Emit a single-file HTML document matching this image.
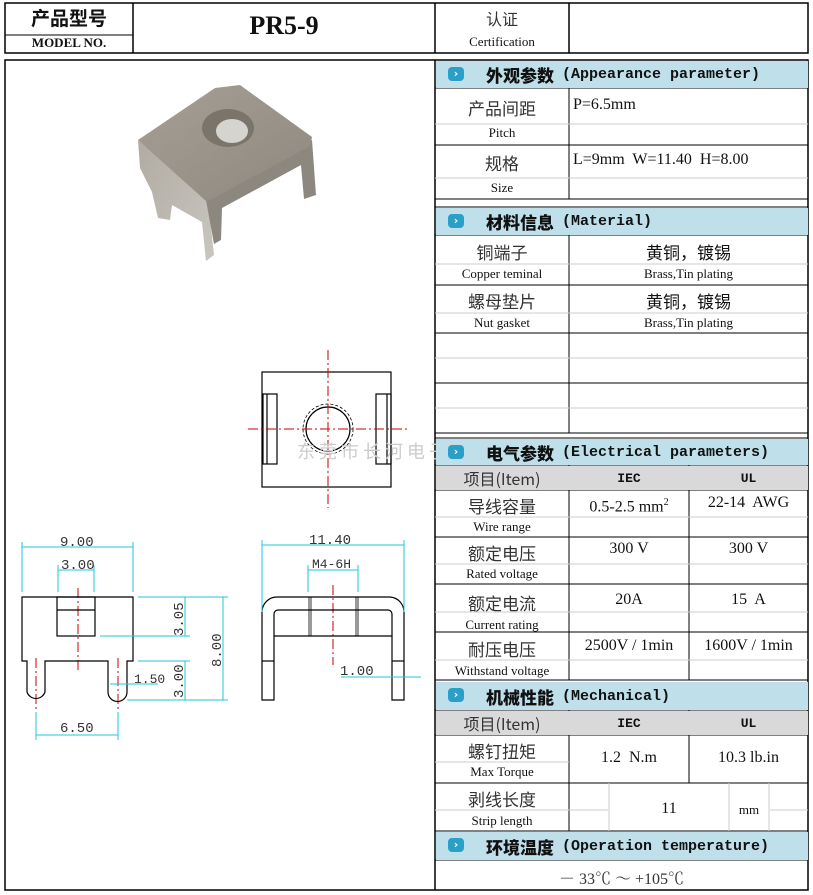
<!DOCTYPE html>
<html><head><meta charset="utf-8"><style>
body{margin:0;width:813px;height:895px;background:#fff;position:relative;overflow:hidden;font-family:"Liberation Serif","Noto Serif CJK SC",serif;color:#111}
.a{position:absolute}
.h{position:absolute;left:436px;width:372px;background:#bfe0ea;font-family:"Liberation Mono","Noto Sans CJK SC",monospace;font-weight:bold;font-size:15px;display:flex;align-items:center}
.h b{font-family:"Noto Sans CJK SC",sans-serif;font-size:17px;margin-left:50px;margin-right:8px}
.ic{position:absolute;left:12px;top:6px;width:16px;height:14px;border-radius:4px;background:#2a9fc8;color:#fff;font-size:11px;line-height:14px;text-align:center;font-family:"DejaVu Sans",sans-serif}
.t{position:absolute;text-align:center;font-size:17px;font-family:"Noto Sans CJK SC",sans-serif;color:#333}
.s{position:absolute;text-align:center;font-size:13px;font-family:"Liberation Serif",serif}
.v{position:absolute;text-align:center;font-size:16px;font-family:"Liberation Serif","Noto Serif CJK SC",serif}
.g{position:absolute;left:436px;width:372px;background:#d9d9d9}
</style></head><body>
<svg class="a" style="left:0;top:0" width="813" height="895">
<defs>
<linearGradient id="lf" x1="0" y1="0" x2="1" y2="1"><stop offset="0" stop-color="#b0aba2"/><stop offset="1" stop-color="#c9c6c0"/></linearGradient>
<linearGradient id="tf" x1="0" y1="0" x2="1" y2="1"><stop offset="0" stop-color="#a59f95"/><stop offset="1" stop-color="#8e887e"/></linearGradient>
</defs>
<g stroke="#000" stroke-width="1.5" fill="none">
<rect x="5" y="3" width="803" height="50"/>
<line x1="5" y1="35" x2="133" y2="35" stroke-width="1"/>
<line x1="133" y1="3" x2="133" y2="53"/><line x1="435" y1="3" x2="435" y2="53"/><line x1="569" y1="3" x2="569" y2="53"/>
<rect x="5" y="60" width="803" height="830"/>
<line x1="435" y1="60" x2="435" y2="890"/>
</g>
<g stroke="#000" stroke-width="1">
<line x1="435" y1="88" x2="808" y2="88"/><line x1="435" y1="145" x2="808" y2="145"/><line x1="435" y1="199" x2="808" y2="199"/>
<line x1="435" y1="207" x2="808" y2="207"/><line x1="435" y1="235" x2="808" y2="235"/><line x1="435" y1="285" x2="808" y2="285"/>
<line x1="435" y1="333" x2="808" y2="333"/><line x1="435" y1="383" x2="808" y2="383"/><line x1="435" y1="433" x2="808" y2="433"/>
<line x1="435" y1="438" x2="808" y2="438"/><line x1="435" y1="465" x2="808" y2="465"/><line x1="435" y1="490" x2="808" y2="490"/>
<line x1="435" y1="537" x2="808" y2="537"/><line x1="435" y1="584" x2="808" y2="584"/><line x1="435" y1="632" x2="808" y2="632"/>
<line x1="435" y1="680" x2="808" y2="680"/><line x1="435" y1="710" x2="808" y2="710"/><line x1="435" y1="735" x2="808" y2="735"/>
<line x1="435" y1="783" x2="808" y2="783"/><line x1="435" y1="831" x2="808" y2="831"/><line x1="435" y1="860" x2="808" y2="860"/>
<line x1="569" y1="88" x2="569" y2="199"/><line x1="569" y1="235" x2="569" y2="433"/>
<line x1="569" y1="465" x2="569" y2="680"/><line x1="689" y1="465" x2="689" y2="680"/>
<line x1="569" y1="710" x2="569" y2="831"/><line x1="689" y1="710" x2="689" y2="783"/>
</g>
<g stroke="#ccc" stroke-width="1">
<line x1="435" y1="124" x2="808" y2="124"/><line x1="435" y1="178" x2="808" y2="178"/>
<line x1="435" y1="264" x2="808" y2="264"/><line x1="435" y1="313" x2="808" y2="313"/>
<line x1="435" y1="358" x2="808" y2="358"/><line x1="435" y1="408" x2="808" y2="408"/>
<line x1="435" y1="517" x2="808" y2="517"/><line x1="435" y1="564" x2="808" y2="564"/>
<line x1="435" y1="612" x2="808" y2="612"/><line x1="435" y1="660" x2="808" y2="660"/>
<line x1="435" y1="762" x2="569" y2="762"/><line x1="435" y1="810" x2="608" y2="810"/><line x1="770" y1="810" x2="808" y2="810"/>
<line x1="609" y1="783" x2="609" y2="831"/><line x1="729" y1="783" x2="729" y2="831"/><line x1="769" y1="783" x2="769" y2="831"/>
</g>
<!-- photo -->
<g>
<polygon points="138,140 208,200 214,255 206,261 202,222 172,205 170,220 158,218 152,192 140,168" fill="url(#lf)"/>
<polygon points="206,200 312,140 316,195 304,199 301,165 222,208 221,240 214,244" fill="#8d887f"/>
<polygon points="138,140 215,88 240,85 312,137 310,146 214,198 206,201" fill="url(#tf)"/>
<ellipse cx="228" cy="128" rx="26" ry="19" fill="#7a746a"/>
<ellipse cx="232" cy="131" rx="16" ry="12" fill="#d6d4cf"/>
</g>
<!-- top view -->
<g stroke="#000" stroke-width="1.2" fill="none">
<rect x="262" y="372" width="129" height="115"/>
<rect x="263" y="394" width="14" height="70"/><line x1="267" y1="394" x2="267" y2="464"/>
<rect x="376" y="394" width="15" height="70"/><line x1="387" y1="394" x2="387" y2="464"/>
<circle cx="328" cy="429" r="22"/><circle cx="328" cy="429" r="25" stroke-dasharray="3,2" stroke-width="0.8"/>
</g>
<g stroke="#c00" stroke-width="1" stroke-dasharray="10,3,2,3">
<line x1="328" y1="350" x2="328" y2="508"/><line x1="248" y1="429" x2="408" y2="429"/>
<line x1="78" y1="588" x2="78" y2="672"/><line x1="36" y1="658" x2="36" y2="712"/><line x1="118" y1="658" x2="118" y2="712"/>
<line x1="333" y1="585" x2="333" y2="665"/>
</g>
<!-- front view -->
<g stroke="#000" stroke-width="1.2" fill="none">
<path d="M22,597 H133 V661 H127 V692 A9.5,9.5 0 0 1 108,692 V661 H45 V692 A9.5,9.5 0 0 1 27,692 V661 H22 Z"/>
<rect x="57" y="597" width="38" height="39"/><line x1="57" y1="610" x2="95" y2="610"/>
<!-- side view -->
<path d="M262,700 V612 A15,15 0 0 1 277,597 H390 A15,15 0 0 1 404,612 V700 H392 V636 H274 V700 Z"/>
<path d="M274,636 V614 A4,4 0 0 1 278,610 H388 A4,4 0 0 1 392,614 V636"/>
<line x1="262" y1="661" x2="274" y2="661"/><line x1="392" y1="661" x2="404" y2="661"/>
<line x1="309" y1="597" x2="309" y2="636" stroke-width="0.8"/><line x1="311" y1="597" x2="311" y2="636" stroke-width="0.8"/>
<line x1="356" y1="597" x2="356" y2="636" stroke-width="0.8"/><line x1="358" y1="597" x2="358" y2="636" stroke-width="0.8"/>
</g>
<g stroke="#1cc8d8" stroke-width="1" fill="none">
<line x1="22" y1="547" x2="133" y2="547"/><line x1="22" y1="542" x2="22" y2="592"/><line x1="133" y1="542" x2="133" y2="592"/>
<line x1="58" y1="570" x2="94" y2="570"/><line x1="58" y1="565" x2="58" y2="592"/><line x1="94" y1="565" x2="94" y2="592"/>
<line x1="138" y1="597" x2="228" y2="597"/><line x1="100" y1="636" x2="190" y2="636"/><line x1="138" y1="661" x2="190" y2="661"/><line x1="127" y1="700" x2="228" y2="700"/>
<line x1="185" y1="597" x2="185" y2="636"/><line x1="185" y1="661" x2="185" y2="700"/><line x1="223" y1="597" x2="223" y2="700"/>
<line x1="110" y1="684" x2="158" y2="684"/>
<line x1="36" y1="735" x2="118" y2="735"/><line x1="36" y1="712" x2="36" y2="740"/><line x1="118" y1="712" x2="118" y2="740"/>
<line x1="262" y1="545" x2="404" y2="545"/><line x1="262" y1="540" x2="262" y2="612"/><line x1="404" y1="540" x2="404" y2="612"/>
<line x1="308" y1="570" x2="358" y2="570"/><line x1="308" y1="565" x2="308" y2="592"/><line x1="358" y1="565" x2="358" y2="592"/>
<line x1="341" y1="677" x2="421" y2="677"/>
</g>
<g fill="#333" font-family="Liberation Mono,monospace" font-size="14">
<text x="60" y="546">9.00</text><text x="61" y="569">3.00</text>
<text x="134" y="683" font-size="13">1.50</text><text x="60" y="732">6.50</text>
<text x="309" y="544">11.40</text><text x="312" y="568" font-size="13">M4-6H</text><text x="340" y="675">1.00</text>
<text transform="translate(183,636) rotate(-90)">3.05</text>
<text transform="translate(183,698) rotate(-90)">3.00</text>
<text transform="translate(221,667) rotate(-90)">8.00</text>
</g>
<text x="297" y="458" font-family="Noto Sans CJK SC,sans-serif" font-size="18" fill="#ccc" letter-spacing="4">东莞市长河电子</text>
</svg>

<div class="t" style="left:5px;top:4px;width:128px;font-size:19px;font-weight:bold;color:#111">产品型号</div>
<div class="s" style="left:5px;top:35px;width:128px;font-weight:bold;font-size:13px">MODEL NO.</div>
<div class="v" style="left:133px;top:11px;width:302px;font-size:26px;font-weight:bold">PR5-9</div>
<div class="t" style="left:435px;top:6px;width:134px;font-size:16px">认证</div>
<div class="s" style="left:435px;top:34px;width:134px">Certification</div>

<div class="h" style="top:61px;height:27px"><span class="ic">›</span><b>外观参数</b>(Appearance parameter)</div>
<div class="t" style="left:435px;top:95px;width:134px">产品间距</div><div class="s" style="left:435px;top:125px;width:134px">Pitch</div>
<div class="v" style="left:573px;top:96px">P=6.5mm</div>
<div class="t" style="left:435px;top:150px;width:134px">规格</div><div class="s" style="left:435px;top:180px;width:134px">Size</div>
<div class="v" style="left:573px;top:151px">L=9mm&nbsp; W=11.40&nbsp; H=8.00</div>

<div class="h" style="top:208px;height:27px"><span class="ic">›</span><b>材料信息</b>(Material)</div>
<div class="t" style="left:435px;top:239px;width:134px">铜端子</div><div class="s" style="left:435px;top:266px;width:134px">Copper teminal</div>
<div class="t" style="left:569px;top:239px;width:239px;color:#111">黄铜，镀锡</div><div class="s" style="left:569px;top:266px;width:239px">Brass,Tin plating</div>
<div class="t" style="left:435px;top:288px;width:134px">螺母垫片</div><div class="s" style="left:435px;top:315px;width:134px">Nut gasket</div>
<div class="t" style="left:569px;top:288px;width:239px;color:#111">黄铜，镀锡</div><div class="s" style="left:569px;top:315px;width:239px">Brass,Tin plating</div>

<div class="h" style="top:439px;height:26px"><span class="ic">›</span><b>电气参数</b>(Electrical parameters)</div>
<div class="g" style="top:466px;height:24px"></div>
<div class="t" style="left:435px;top:466px;width:134px;font-size:16px">项目(Item)</div>
<div class="s" style="left:569px;top:471px;width:120px;font-weight:bold;font-family:'Liberation Mono',monospace">IEC</div>
<div class="s" style="left:689px;top:471px;width:119px;font-weight:bold;font-family:'Liberation Mono',monospace">UL</div>
<div class="t" style="left:435px;top:493px;width:134px">导线容量</div><div class="s" style="left:435px;top:519px;width:134px">Wire range</div>
<div class="v" style="left:569px;top:497px;width:120px">0.5-2.5 mm<sup style="font-size:10px">2</sup></div><div class="v" style="left:689px;top:494px;width:119px">22-14&nbsp; AWG</div>
<div class="t" style="left:435px;top:540px;width:134px">额定电压</div><div class="s" style="left:435px;top:566px;width:134px">Rated voltage</div>
<div class="v" style="left:569px;top:540px;width:120px">300 V</div><div class="v" style="left:689px;top:540px;width:119px">300 V</div>
<div class="t" style="left:435px;top:590px;width:134px">额定电流</div><div class="s" style="left:435px;top:617px;width:134px">Current rating</div>
<div class="v" style="left:569px;top:591px;width:120px">20A</div><div class="v" style="left:689px;top:591px;width:119px">15&nbsp; A</div>
<div class="t" style="left:435px;top:636px;width:134px">耐压电压</div><div class="s" style="left:435px;top:663px;width:134px">Withstand voltage</div>
<div class="v" style="left:569px;top:637px;width:120px">2500V / 1min</div><div class="v" style="left:689px;top:637px;width:119px">1600V / 1min</div>

<div class="h" style="top:682px;height:28px"><span class="ic">›</span><b>机械性能</b>(Mechanical)</div>
<div class="g" style="top:711px;height:24px"></div>
<div class="t" style="left:435px;top:711px;width:134px;font-size:16px">项目(Item)</div>
<div class="s" style="left:569px;top:716px;width:120px;font-weight:bold;font-family:'Liberation Mono',monospace">IEC</div>
<div class="s" style="left:689px;top:716px;width:119px;font-weight:bold;font-family:'Liberation Mono',monospace">UL</div>
<div class="t" style="left:435px;top:738px;width:134px">螺钉扭矩</div><div class="s" style="left:435px;top:764px;width:134px">Max Torque</div>
<div class="v" style="left:569px;top:749px;width:120px">1.2&nbsp; N.m</div><div class="v" style="left:689px;top:749px;width:119px">10.3 lb.in</div>
<div class="t" style="left:435px;top:786px;width:134px">剥线长度</div><div class="s" style="left:435px;top:813px;width:134px">Strip length</div>
<div class="v" style="left:609px;top:800px;width:120px">11</div><div class="s" style="left:729px;top:802px;width:40px">mm</div>

<div class="h" style="top:832px;height:28px"><span class="ic">›</span><b>环境温度</b>(Operation temperature)</div>
<div class="v" style="left:435px;top:866px;width:373px;color:#333">－ 33℃ ～ +105℃</div>
</body></html>
